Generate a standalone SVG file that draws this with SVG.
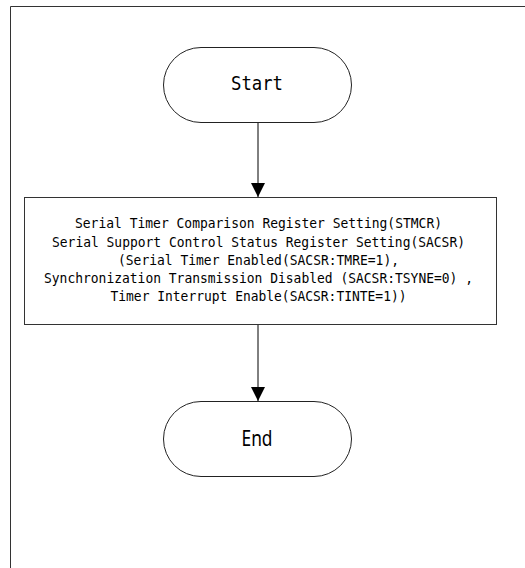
<svg xmlns="http://www.w3.org/2000/svg" width="525" height="568" viewBox="0 0 525 568">
<defs>
<style>
.frame{fill:none;stroke:#333;stroke-width:1}
.term{fill:#fff;stroke:#222;stroke-width:1}
.proc{fill:#fff;stroke:#333;stroke-width:1}
.conn{stroke:#000;stroke-width:1;fill:none}
.t{font-family:"DejaVu Sans Mono","Liberation Mono",monospace;font-size:14px;fill:#000;text-anchor:middle}
.big{font-family:"DejaVu Sans Mono","Liberation Mono",monospace;font-size:19px;fill:#000;text-anchor:middle}
.end{font-family:"Noto Sans","Open Sans",sans-serif;font-size:21px;fill:#000;text-anchor:middle}
</style>
<marker id="arr" markerWidth="14" markerHeight="14" refX="14" refY="7" orient="auto" markerUnits="userSpaceOnUse">
<path d="M0,0 L14,7 L0,14 Z" fill="#000"/>
</marker>
</defs>
<rect width="525" height="568" fill="#fff"/>
<path class="frame" d="M10.5,580 L10.5,6.5 L540,6.5"/>
<g id="connectors">
<line class="conn" x1="258" y1="122" x2="258" y2="197" marker-end="url(#arr)"/>
<line class="conn" x1="258" y1="325" x2="258" y2="401" marker-end="url(#arr)"/>
</g>
<g id="start">
<rect class="term" x="163.5" y="47.5" width="188" height="75" rx="37.5" ry="37.5"/>
<text class="big" x="257" y="90" textLength="52" lengthAdjust="spacingAndGlyphs">Start</text>
</g>
<g id="process">
<rect class="proc" x="24.5" y="197.5" width="472" height="127"/>
<text class="t" x="258.5" y="228" textLength="367" lengthAdjust="spacingAndGlyphs">Serial Timer Comparison Register Setting(STMCR)</text>
<text class="t" x="258.5" y="246.5" textLength="413" lengthAdjust="spacingAndGlyphs">Serial Support Control Status Register Setting(SACSR)</text>
<text class="t" x="258.5" y="264.5" textLength="281" lengthAdjust="spacingAndGlyphs">(Serial Timer Enabled(SACSR:TMRE=1),</text>
<text class="t" x="258.5" y="283" textLength="429" lengthAdjust="spacingAndGlyphs">Synchronization Transmission Disabled (SACSR:TSYNE=0) ,</text>
<text class="t" x="258.5" y="301" textLength="296" lengthAdjust="spacingAndGlyphs">Timer Interrupt Enable(SACSR:TINTE=1))</text>
</g>
<g id="end">
<rect class="term" x="163.5" y="401.5" width="188" height="75" rx="37.5" ry="37.5"/>
<text class="end" x="257" y="446" textLength="31" lengthAdjust="spacingAndGlyphs">End</text>
</g>
</svg>
